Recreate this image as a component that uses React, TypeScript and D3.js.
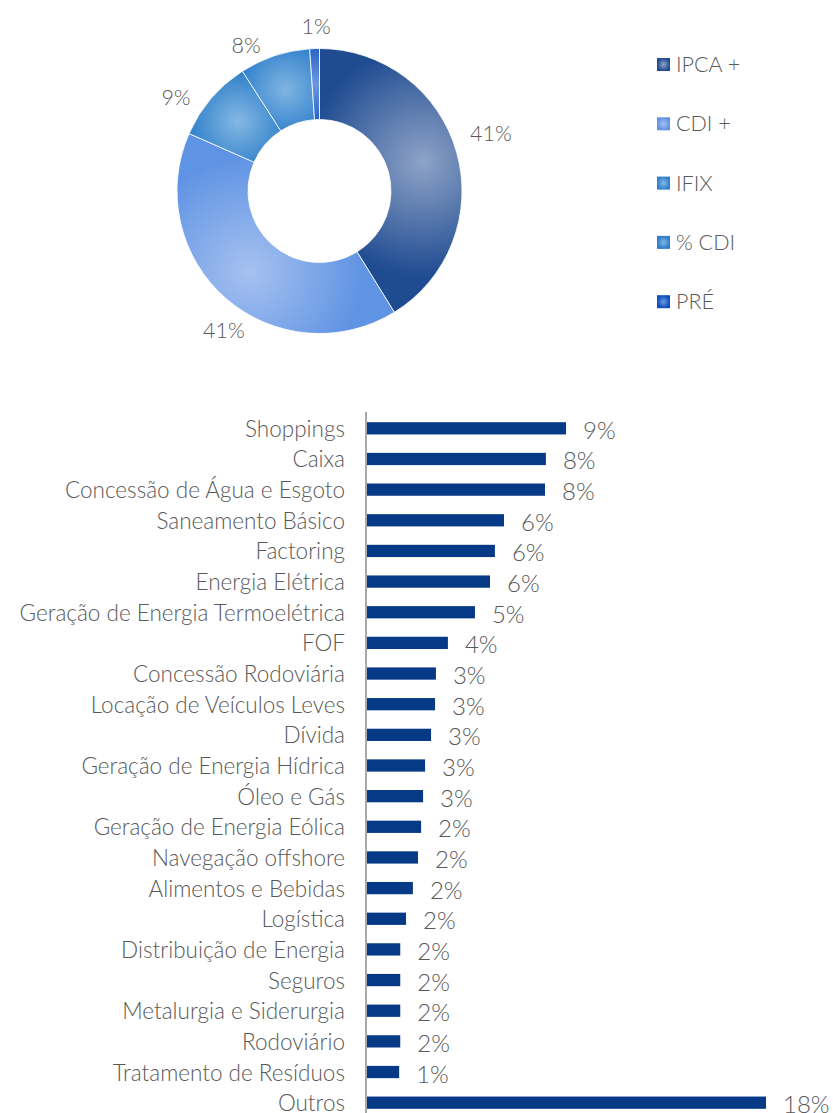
import React from "react";
import * as d3 from "d3";

const pieCategories = ["IPCA +", "CDI +", "IFIX", "% CDI", "PRÉ"];
const pieValues = [41.2, 40.4, 9.3, 8.0, 1.1];
const pieLabels = ["41%", "41%", "9%", "8%", "1%"];
const pieEdgeColors = ["#1f4b91", "#5f93e3", "#2f80c9", "#2c7dcb", "#0c4dbb"];
const pieCenterColors = ["#8ea3c7", "#a6c1f0", "#85b8e4", "#80b5e2", "#6d97e2"];

const barCategories = [
  "Shoppings", "Caixa", "Concessão de Água e Esgoto", "Saneamento Básico", "Factoring",
  "Energia Elétrica", "Geração de Energia Termoelétrica", "FOF", "Concessão Rodoviária",
  "Locação de Veículos Leves", "Dívida", "Geração de Energia Hídrica", "Óleo e Gás",
  "Geração de Energia Eólica", "Navegação offshore", "Alimentos e Bebidas", "Logística",
  "Distribuição de Energia", "Seguros", "Metalurgia e Siderurgia", "Rodoviário",
  "Tratamento de Resíduos", "Outros",
];
const barValues = [
  8.98, 8.07, 8.03, 6.18, 5.77, 5.55, 4.87, 3.65, 3.11, 3.07, 2.89, 2.62, 2.53, 2.44,
  2.3, 2.07, 1.76, 1.5, 1.5, 1.5, 1.5, 1.45, 18.0,
];
const barLabels = [
  "9%", "8%", "8%", "6%", "6%", "6%", "5%", "4%", "3%", "3%", "3%", "3%", "3%", "2%",
  "2%", "2%", "2%", "2%", "2%", "2%", "2%", "1%", "18%",
];

// label placement tweaks (degrees from slice middle, px beyond outer radius)
const pieLabelAngleNudge = [-2.9, -6.6, -7.3, -8.3, 0.8];
const pieLabelRadiusOffset = [38.5, 26.5, 29, 21, 22.5];

const FONT = "Lato, 'Open Sans', sans-serif";
const TEXT = "#595959";

export default function App() {
  const cx = 319.5, cy = 191, rO = 142.5, rI = 71.5;
  const pie = d3.pie<number>().value((d) => d).sort(null)(pieValues);
  const arc = d3.arc<d3.PieArcDatum<number>>().innerRadius(rI).outerRadius(rO);

  const x = d3.scaleLinear().domain([0, 18]).range([367, 766]);
  const y = d3.scaleBand().domain(barCategories).range([413, 1118]).paddingInner(0.6).paddingOuter(0.3);

  // centroids relative to the donut centre (gradient user space is the translated group)
  const centroids = pie.map((p) => {
    const mid = (p.startAngle + p.endAngle) / 2;
    const r = (rI + rO) / 2;
    return [Math.sin(mid) * r, -Math.cos(mid) * r];
  });

  return (
    <div style={{ position: "absolute", left: 0, top: 0 }}>
      <svg width={833} height={1113} style={{ display: "block" }}>
        <defs>
          {pie.map((p, i) => (
            <radialGradient key={i} id={`pg${i}`} gradientUnits="userSpaceOnUse"
              cx={centroids[i][0]} cy={centroids[i][1]} fx={centroids[i][0]} fy={centroids[i][1]}
              r={i < 2 ? 115 : 50}>
              <stop offset="0" stopColor={pieCenterColors[i]} />
              <stop offset="1" stopColor={pieEdgeColors[i]} />
            </radialGradient>
          ))}
          {pieCategories.map((c, i) => (
            <radialGradient key={c} id={`lg${i}`}>
              <stop offset="0" stopColor={pieCenterColors[i]} />
              <stop offset="1" stopColor={pieEdgeColors[i]} />
            </radialGradient>
          ))}
        </defs>
        <g transform={`translate(${cx},${cy})`}>
          {pie.map((p, i) => (
            <path key={i} d={arc(p) || ""} fill={`url(#pg${i})`} stroke="#ffffff" strokeWidth={0.8} />
          ))}
        </g>
        {pie.map((p, i) => {
          const mid = (p.startAngle + p.endAngle) / 2 + (pieLabelAngleNudge[i] * Math.PI) / 180;
          const r = rO + pieLabelRadiusOffset[i];
          const lx = cx + Math.sin(mid) * r;
          const ly = cy - Math.cos(mid) * r;
          return (
            <text key={i} x={lx} y={ly} textAnchor="middle" dominantBaseline="central"
              fontFamily={FONT} fontWeight={300} fontSize={21.5} fill={TEXT}>
              {pieLabels[i]}
            </text>
          );
        })}
        {pieCategories.map((c, i) => {
          const ly = 64 + i * 59.3;
          return (
            <g key={c}>
              <rect x={657} y={ly - 6} width={13} height={13} fill={`url(#lg${i})`} />
              <text x={676} y={ly} dominantBaseline="central" fontFamily={FONT} fontWeight={300}
                fontSize={21.5} fill={TEXT}>
                {c}
              </text>
            </g>
          );
        })}

        {barCategories.map((c, i) => {
          const by = y(c)!;
          const bh = y.bandwidth();
          const yc = by + bh / 2;
          return (
            <g key={c}>
              <rect x={x(0)} y={by} width={x(barValues[i]) - x(0)} height={bh} fill="#063a87" />
              <text x={345} y={yc} textAnchor="end" dominantBaseline="central"
                fontFamily={FONT} fontWeight={300} fontSize={22.5} fill={TEXT}>
                {c}
              </text>
              <text x={x(barValues[i]) + 17} y={yc + 1} dominantBaseline="central"
                fontFamily={FONT} fontWeight={300} fontSize={24} fill={TEXT}>
                {barLabels[i]}
              </text>
            </g>
          );
        })}
        <line x1={366} x2={366} y1={412} y2={1113} stroke="#8c8c8c" strokeWidth={1.5} />
      </svg>
    </div>
  );
}
